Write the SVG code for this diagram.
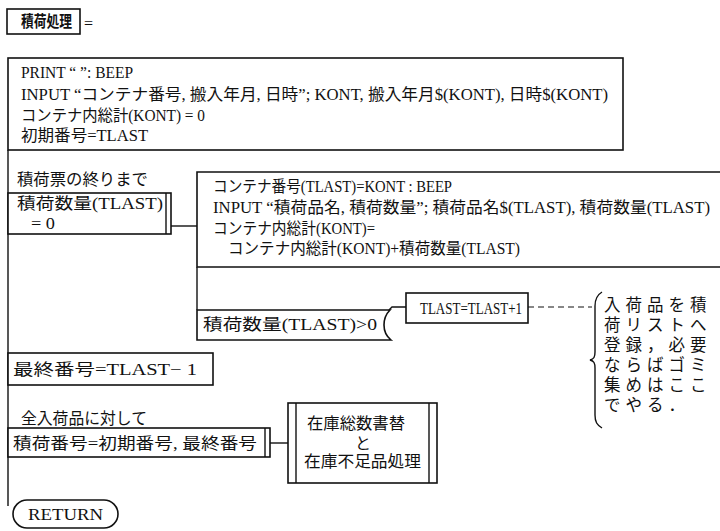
<svg xmlns="http://www.w3.org/2000/svg" width="720" height="531" viewBox="0 0 720 531">
<style>
text{font-family:"Liberation Serif","Noto Sans CJK JP",serif;font-size:16px;fill:#111}
.b{font-weight:bold}
.box{fill:#fff;stroke:#111;stroke-width:1.6}
.ln{fill:none;stroke:#111;stroke-width:1.4}
.ds{fill:none;stroke:#111;stroke-width:1.2;stroke-dasharray:6 4}
.nt{font-size:16.5px;letter-spacing:5px}
</style>
<rect width="720" height="531" fill="#fff"/>
<g id="connectors">
<line class="ln" x1="8" y1="150" x2="8" y2="506"/>
<line class="ln" x1="171" y1="226" x2="197" y2="226"/>
<line class="ln" x1="197" y1="267" x2="197" y2="310"/>
<polyline class="ln" points="389,310 392,307 406,307"/>
<path class="ds" d="M528,307 H592"/>
<line class="ln" x1="270" y1="443" x2="288" y2="443"/>
</g>
<g id="title">
<rect class="box" x="7" y="9" width="73" height="25"/>
<text class="b" x="21" y="27" font-size="14" textLength="51" lengthAdjust="spacingAndGlyphs">積荷処理</text>
<text x="84" y="29" font-size="24">=</text>
</g>
<g id="init">
<rect class="box" x="8" y="58" width="615" height="92"/>
<text x="21" y="78" textLength="112" lengthAdjust="spacingAndGlyphs">PRINT “  ”: BEEP</text>
<text x="21" y="100" textLength="587" lengthAdjust="spacingAndGlyphs">INPUT “コンテナ番号, 搬入年月, 日時”; KONT, 搬入年月$(KONT), 日時$(KONT)</text>
<text x="21" y="121" textLength="184" lengthAdjust="spacingAndGlyphs">コンテナ内総計(KONT) = 0</text>
<text x="21" y="141" textLength="127" lengthAdjust="spacingAndGlyphs">初期番号=TLAST</text>
</g>
<g id="loop">
<text x="17" y="185" textLength="131" lengthAdjust="spacingAndGlyphs">積荷票の終りまで</text>
<rect class="box" x="8" y="193" width="163" height="41"/>
<line class="ln" x1="166" y1="193" x2="166" y2="234"/>
<text x="17" y="209" font-size="17" textLength="146" lengthAdjust="spacingAndGlyphs">積荷数量(TLAST)</text>
<text x="31" y="229" font-size="17" textLength="24" lengthAdjust="spacingAndGlyphs">= 0</text>
</g>
<g id="body">
<path class="box" d="M724,172 H197 V267 H724"/>
<text x="213" y="192" textLength="239" lengthAdjust="spacingAndGlyphs">コンテナ番号(TLAST)=KONT : BEEP</text>
<text x="213" y="213" textLength="497" lengthAdjust="spacingAndGlyphs">INPUT “積荷品名, 積荷数量”; 積荷品名$(TLAST), 積荷数量(TLAST)</text>
<text x="213" y="234" textLength="162" lengthAdjust="spacingAndGlyphs">コンテナ内総計(KONT)=</text>
<text x="228" y="254" textLength="292" lengthAdjust="spacingAndGlyphs">コンテナ内総計(KONT)+積荷数量(TLAST)</text>
</g>
<g id="until">
<path class="box" d="M197,310 H390 C386,314 384,319 384,325 C384,331 386,336 391,340 H197 Z"/>
<text x="203" y="330" font-size="17" textLength="174" lengthAdjust="spacingAndGlyphs">積荷数量(TLAST)&gt;0</text>
</g>
<g id="inc">
<rect class="box" x="406" y="293" width="122" height="30"/>
<text x="420" y="314" font-size="18" textLength="102" lengthAdjust="spacingAndGlyphs">TLAST=TLAST+1</text>
</g>
<g id="note">
<path class="ln" d="M602,292 C597,295 595,299 595,306 V352 C595,357 594,359 590,360 C594,361 595,363 595,368 V415 C595,422 597,425 602,428"/>
<text class="nt" x="604" y="311">入荷品を積</text>
<text class="nt" x="604" y="331">荷リストへ</text>
<text class="nt" x="604" y="351">登録，必要</text>
<text class="nt" x="604" y="371">ならばゴミ</text>
<text class="nt" x="604" y="391">集めはここ</text>
<text class="nt" x="604" y="411">でやる．</text>
</g>
<g id="last">
<rect class="box" x="8" y="353" width="205" height="32"/>
<text x="13" y="375" font-size="17" textLength="184" lengthAdjust="spacingAndGlyphs">最終番号=TLAST− 1</text>
</g>
<g id="forall">
<text x="21" y="424" textLength="126" lengthAdjust="spacingAndGlyphs">全入荷品に対して</text>
<rect class="box" x="8" y="428" width="262" height="29"/>
<line class="ln" x1="265" y1="428" x2="265" y2="457"/>
<text x="13" y="449" font-size="17" textLength="244" lengthAdjust="spacingAndGlyphs">積荷番号=初期番号, 最終番号</text>
</g>
<g id="stock">
<rect class="box" x="288" y="403" width="149" height="80"/>
<line class="ln" x1="296" y1="403" x2="296" y2="483"/>
<line class="ln" x1="429" y1="403" x2="429" y2="483"/>
<text x="307" y="429" textLength="98" lengthAdjust="spacingAndGlyphs">在庫総数書替</text>
<text x="355" y="449">と</text>
<text x="304" y="467" textLength="117" lengthAdjust="spacingAndGlyphs">在庫不足品処理</text>
</g>
<g id="return">
<rect class="box" x="13" y="500" width="105" height="28" rx="14"/>
<text x="28" y="520" textLength="75" lengthAdjust="spacingAndGlyphs">RETURN</text>
</g>
</svg>
